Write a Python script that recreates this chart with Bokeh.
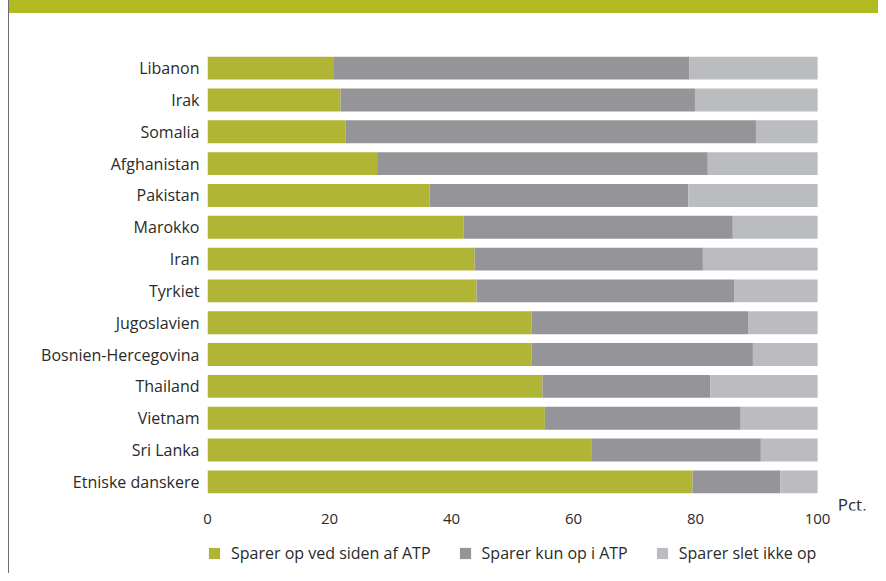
from bokeh.plotting import figure
from bokeh.models import ColumnDataSource, FactorRange, Range1d, Legend, LegendItem, Label, Div, FixedTicker
from bokeh.layouts import row, column
from bokeh.embed import file_html
from bokeh.resources import INLINE

countries = ["Libanon", "Irak", "Somalia", "Afghanistan", "Pakistan", "Marokko", "Iran",
             "Tyrkiet", "Jugoslavien", "Bosnien-Hercegovina", "Thailand", "Vietnam",
             "Sri Lanka", "Etniske danskere"]
saver_extra = [20.6, 21.8, 22.6, 27.8, 36.4, 42.0, 43.8, 44.1, 53.1, 53.1, 54.9, 55.3, 62.9, 79.5]
saver_atp = [58.4, 58.1, 67.3, 54.2, 42.4, 44.1, 37.4, 42.3, 35.5, 36.3, 27.5, 32.1, 27.8, 14.4]
saver_none = [21.0, 20.1, 10.1, 18.0, 21.2, 13.9, 18.8, 13.6, 11.4, 10.6, 17.6, 12.6, 9.3, 6.1]
series_labels = ["Sparer op ved siden af ATP", "Sparer kun op i ATP", "Sparer slet ikke op"]
x_ticks = [0, 20, 40, 60, 80, 100]
unit_label = "Pct."

colors = ["#b0b535", "#959599", "#bbbcc0"]
FONT = "Open Sans"
TXT = "#2a2a2a"

source = ColumnDataSource(dict(country=countries, g=saver_extra, d=saver_atp, l=saver_none))

yr = FactorRange(factors=list(reversed(countries)), range_padding=0.8 / 14,
                 range_padding_units="percent")
p = figure(width=869, height=521, output_backend="svg", toolbar_location=None,
           x_range=Range1d(0, 109), y_range=yr,
           min_border_left=198, min_border_right=6, min_border_top=26, min_border_bottom=24)

rs = p.hbar_stack(["g", "d", "l"], y="country", height=0.72, color=colors,
                  line_width=0, source=source)

p.grid.visible = False
p.outline_line_color = None

p.xaxis.ticker = FixedTicker(ticks=x_ticks)
for ax in (p.xaxis, p.yaxis):
    ax.axis_line_color = None
    ax.major_tick_line_color = None
    ax.minor_tick_line_color = None
    ax.major_tick_out = 0
    ax.major_tick_in = 0
    ax.minor_tick_out = 0
    ax.major_label_text_font = FONT
    ax.major_label_text_color = TXT
p.xaxis.major_label_text_font_size = "15px"
p.xaxis.major_label_standoff = 3
p.yaxis.major_label_text_font_size = "16px"
p.yaxis.major_label_standoff = 8

p.add_layout(Label(x=103.3, y=-0.22, text=unit_label,
                   text_baseline="middle", text_align="left", text_font=FONT,
                   text_font_size="17px", text_color=TXT))

# separate strip for the legend (renderers hidden, only the swatches show)
lf = figure(width=869, height=39, output_backend="svg", toolbar_location=None,
            x_range=Range1d(0, 109), y_range=FactorRange(factors=list(reversed(countries))),
            x_axis_type=None, y_axis_type=None,
            min_border_left=198, min_border_right=6, min_border_top=0, min_border_bottom=0)
lf.outline_line_color = None
lf.grid.visible = False
lrs = lf.hbar_stack(["g", "d", "l"], y="country", height=0.72, color=colors,
                    line_width=0, source=source, visible=False)
legend = Legend(items=[LegendItem(label=series_labels[i], renderers=[lrs[i]]) for i in range(3)],
                orientation="horizontal", location=(0, 9), click_policy="none",
                glyph_width=14, glyph_height=14, label_standoff=10, spacing=27,
                padding=0, margin=0, border_line_color=None, background_fill_alpha=0,
                label_text_font=FONT, label_text_font_size="16px", label_text_color=TXT,
                label_height=14)
lf.add_layout(legend)

spacer = Div(width=8, height=573, margin=0)
vline = Div(width=1, height=573, margin=0, styles={"background-color": "#6e6e6e"})
band = Div(width=869, height=13, margin=0, styles={"background-color": "#b2ba22"})
layout = row(spacer, vline, column(band, p, lf, spacing=0), spacing=0)

open("out.html", "w").write(file_html(layout, INLINE))
